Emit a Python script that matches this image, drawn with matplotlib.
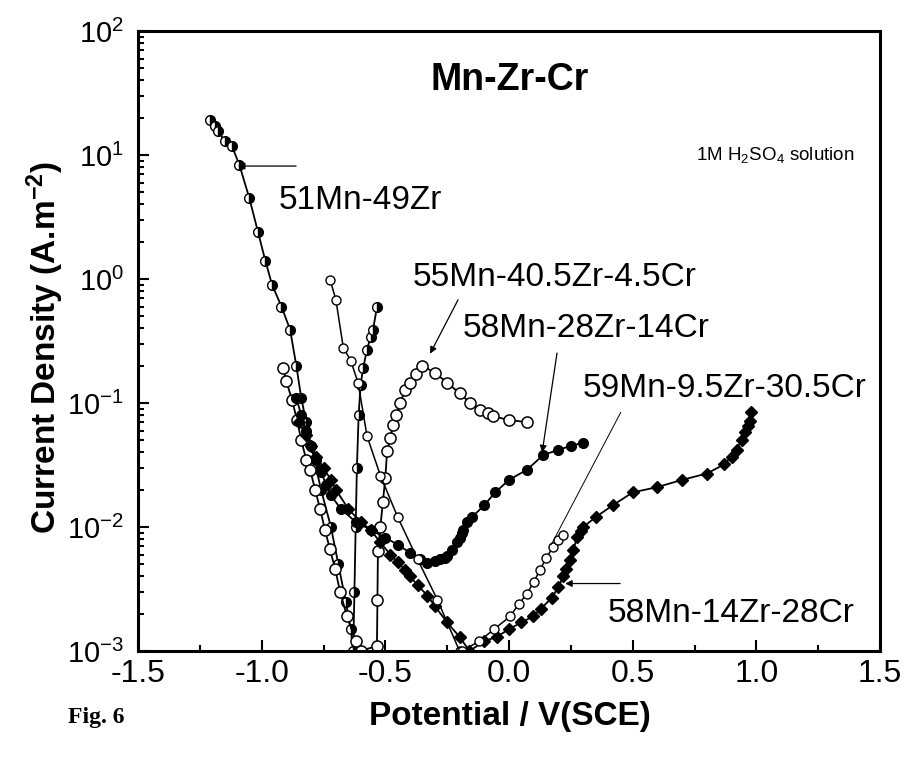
import matplotlib
matplotlib.use('Agg')
import matplotlib.pyplot as plt
from matplotlib.ticker import FixedLocator, LogLocator, NullFormatter, MultipleLocator

plt.rcParams['font.family'] = ['Liberation Sans', 'DejaVu Sans']
plt.rcParams['mathtext.default'] = 'regular'
plt.rcParams['axes.unicode_minus'] = False

# polarisation curves, potential in V(SCE), current density in A/m2
mn51_v = [-1.21, -1.19, -1.175, -1.15, -1.12, -1.09, -1.05, -1.015, -0.985, -0.958,
          -0.92, -0.885, -0.86, -0.84, -0.82, -0.80, -0.78, -0.76, -0.72, -0.69,
          -0.66, -0.64, -0.63, -0.625, -0.62, -0.615, -0.608, -0.60, -0.59, -0.574,
          -0.56, -0.55, -0.534]
mn51_i = [19, 17, 15.5, 13, 11.8, 8.3, 4.5, 2.4, 1.4, 0.9,
          0.6, 0.39, 0.2, 0.11, 0.07, 0.045, 0.03, 0.02, 0.01, 0.005,
          0.0025, 0.0015, 0.001, 0.003, 0.01, 0.03, 0.08, 0.14, 0.19, 0.27,
          0.34, 0.39, 0.59]

mn55_v = [-0.914, -0.90, -0.877, -0.857, -0.84, -0.82, -0.804, -0.784, -0.764, -0.744,
          -0.724, -0.703, -0.683, -0.655, -0.62, -0.60, -0.534, -0.532, -0.53, -0.52,
          -0.51, -0.50, -0.493, -0.48, -0.47, -0.455, -0.44, -0.42, -0.40, -0.376,
          -0.35, -0.30, -0.25, -0.20, -0.157, -0.117, -0.085, -0.064, 0.0, 0.073]
mn55_i = [0.19, 0.15, 0.105, 0.073, 0.05, 0.035, 0.029, 0.02, 0.014, 0.0095,
          0.0066, 0.0046, 0.003, 0.0019, 0.0012, 0.001, 0.0011, 0.0026, 0.0064, 0.01,
          0.016, 0.025, 0.041, 0.052, 0.066, 0.08, 0.1, 0.128, 0.146, 0.17,
          0.2, 0.175, 0.146, 0.12, 0.1, 0.088, 0.083, 0.078, 0.073, 0.07]

mn58a_v = [-0.86, -0.84, -0.82, -0.80, -0.78, -0.76, -0.74, -0.72, -0.68, -0.62,
           -0.56, -0.50, -0.45, -0.40, -0.36, -0.33, -0.30, -0.28, -0.26, -0.25,
           -0.23, -0.21, -0.20, -0.19, -0.186, -0.17, -0.15, -0.10, -0.056, 0.0,
           0.073, 0.138, 0.20, 0.25, 0.30]
mn58a_i = [0.11, 0.08, 0.06, 0.045, 0.035, 0.028, 0.022, 0.018, 0.014, 0.011,
           0.0095, 0.0082, 0.0072, 0.0062, 0.0055, 0.0051, 0.0053, 0.0055, 0.0056, 0.0058,
           0.0065, 0.0075, 0.0082, 0.009, 0.0095, 0.011, 0.012, 0.015, 0.019, 0.024,
           0.029, 0.038, 0.042, 0.045, 0.048]

mn58b_v = [-0.85, -0.82, -0.80, -0.78, -0.75, -0.72, -0.70, -0.65, -0.60, -0.56,
           -0.52, -0.48, -0.45, -0.42, -0.40, -0.37, -0.33, -0.30, -0.25, -0.20,
           -0.16, -0.10, -0.05, 0.0, 0.05, 0.097, 0.13, 0.174, 0.20, 0.219,
           0.23, 0.247, 0.26, 0.275, 0.29, 0.30, 0.35, 0.42, 0.50, 0.60,
           0.70, 0.80, 0.87, 0.90, 0.92, 0.94, 0.955, 0.965, 0.975, 0.98]
mn58b_i = [0.07, 0.055, 0.045, 0.037, 0.03, 0.024, 0.02, 0.014, 0.011, 0.0095,
           0.0075, 0.006, 0.0052, 0.0045, 0.004, 0.0034, 0.0028, 0.0023, 0.0017, 0.0013,
           0.001, 0.0012, 0.0013, 0.0015, 0.0017, 0.0019, 0.0022, 0.0027, 0.0033, 0.004,
           0.0046, 0.0054, 0.0065, 0.0083, 0.0092, 0.01, 0.012, 0.015, 0.019, 0.021,
           0.024, 0.027, 0.032, 0.037, 0.042, 0.05, 0.058, 0.065, 0.072, 0.085]

mn59_v = [-0.723, -0.70, -0.67, -0.64, -0.61, -0.574, -0.52, -0.45, -0.37, -0.29,
          -0.20, -0.19, -0.12, -0.06, 0.004, 0.04, 0.073, 0.10, 0.125, 0.15,
          0.178, 0.20, 0.22]
mn59_i = [0.98, 0.68, 0.28, 0.22, 0.145, 0.054, 0.026, 0.012, 0.0055, 0.0026,
          0.001, 0.001, 0.0012, 0.0015, 0.0019, 0.0024, 0.0029, 0.0036, 0.0045, 0.0056,
          0.0069, 0.0078, 0.0087]

fig = plt.figure(figsize=(9.05, 7.59), dpi=100)
ax = fig.add_axes([0.1525, 0.1423, 0.8199, 0.8168])

ax.plot(mn51_v, mn51_i, '-o', color='k', lw=1.3, ms=7, mfc='k', mfcalt='white',
        fillstyle='right', mec='k', mew=1)
ax.plot(mn55_v, mn55_i, '-o', color='k', lw=1.3, ms=8, mfc='white', mec='k', mew=1.1)
ax.plot(mn58a_v, mn58a_i, '-o', color='k', lw=1.3, ms=7, mfc='k', mec='k')
ax.plot(mn58b_v, mn58b_i, '-D', color='k', lw=1.3, ms=6, mfc='k', mec='k')
ax.plot(mn59_v, mn59_i, '-o', color='k', lw=1.1, ms=6.5, mfc='white', mec='k', mew=1)

ax.set_yscale('log')
ax.set_xlim(-1.5, 1.5)
ax.set_ylim(1e-3, 1e2)

ax.xaxis.set_major_locator(FixedLocator([-1.5, -1.0, -0.5, 0.0, 0.5, 1.0, 1.5]))
ax.set_xticklabels(['-1.5', '-1.0', '-0.5', '0.0', '0.5', '1.0', '1.5'])
ax.xaxis.set_minor_locator(MultipleLocator(0.25))
ax.yaxis.set_major_locator(FixedLocator([1e-3, 1e-2, 1e-1, 1e0, 1e1, 1e2]))
ax.set_yticklabels(['10$^{-3}$', '10$^{-2}$', '10$^{-1}$', '10$^{0}$', '10$^{1}$', '10$^{2}$'])
ax.yaxis.set_minor_locator(LogLocator(base=10, subs=range(2, 10)))
ax.yaxis.set_minor_formatter(NullFormatter())

ax.tick_params(which='both', direction='in', top=False, right=False, width=1.5)
ax.tick_params(which='major', length=8)
ax.tick_params(which='minor', length=4)
ax.tick_params(axis='x', pad=6, labelsize=23)
ax.tick_params(axis='y', pad=10, labelsize=21)
for sp in ax.spines.values():
    sp.set_linewidth(2.2)

lab_font = dict(family=['Liberation Sans'], weight='bold', size=24)
ax.set_xlabel('Potential / V(SCE)', **lab_font)
ax.set_ylabel('Current Density (A.m$^{-2}$)', **lab_font)
ax.xaxis.set_label_coords(0.501, -0.106)
ax.xaxis.label.set_va('center')
ax.yaxis.set_label_coords(-0.125, 0.49)
ax.yaxis.label.set_va('center')

ax.text(0.004, 40, 'Mn-Zr-Cr', ha='center', va='center', size=27, weight='bold')
ax.text(1.076, 10, '1M H$_2$SO$_4$ solution', ha='center', va='center', size=13.5)

lbl = dict(ha='center', va='center', size=24)
ax.text(-0.602, 4.3, '51Mn-49Zr', **lbl)
ax.text(0.186, 1.02, '55Mn-40.5Zr-4.5Cr', **lbl)
ax.text(0.311, 0.40, '58Mn-28Zr-14Cr', **lbl)
ax.text(0.870, 0.132, '59Mn-9.5Zr-30.5Cr', **lbl)
ax.text(0.898, 0.0020, '58Mn-14Zr-28Cr', **lbl)

arrow = dict(arrowstyle='-|>', color='k', lw=0.9, mutation_scale=10, shrinkA=0, shrinkB=0)
ax.annotate('', xy=(-1.096, 8.15), xytext=(-0.861, 8.15), arrowprops=arrow)
ax.annotate('', xy=(-0.319, 0.25), xytext=(-0.206, 0.68), arrowprops=arrow)
ax.annotate('', xy=(0.134, 0.04), xytext=(0.194, 0.253), arrowprops=arrow)
ax.annotate('', xy=(0.166, 0.0069), xytext=(0.457, 0.088),
            arrowprops=dict(arrowstyle='-', color='k', lw=0.7))
ax.annotate('', xy=(0.227, 0.0035), xytext=(0.449, 0.0035), arrowprops=arrow)

fig.text(0.075, 0.055, 'Fig. 6', family=['Liberation Serif', 'DejaVu Serif'],
         weight='bold', size=17, va='center')

fig.savefig('out.png', dpi=100)
